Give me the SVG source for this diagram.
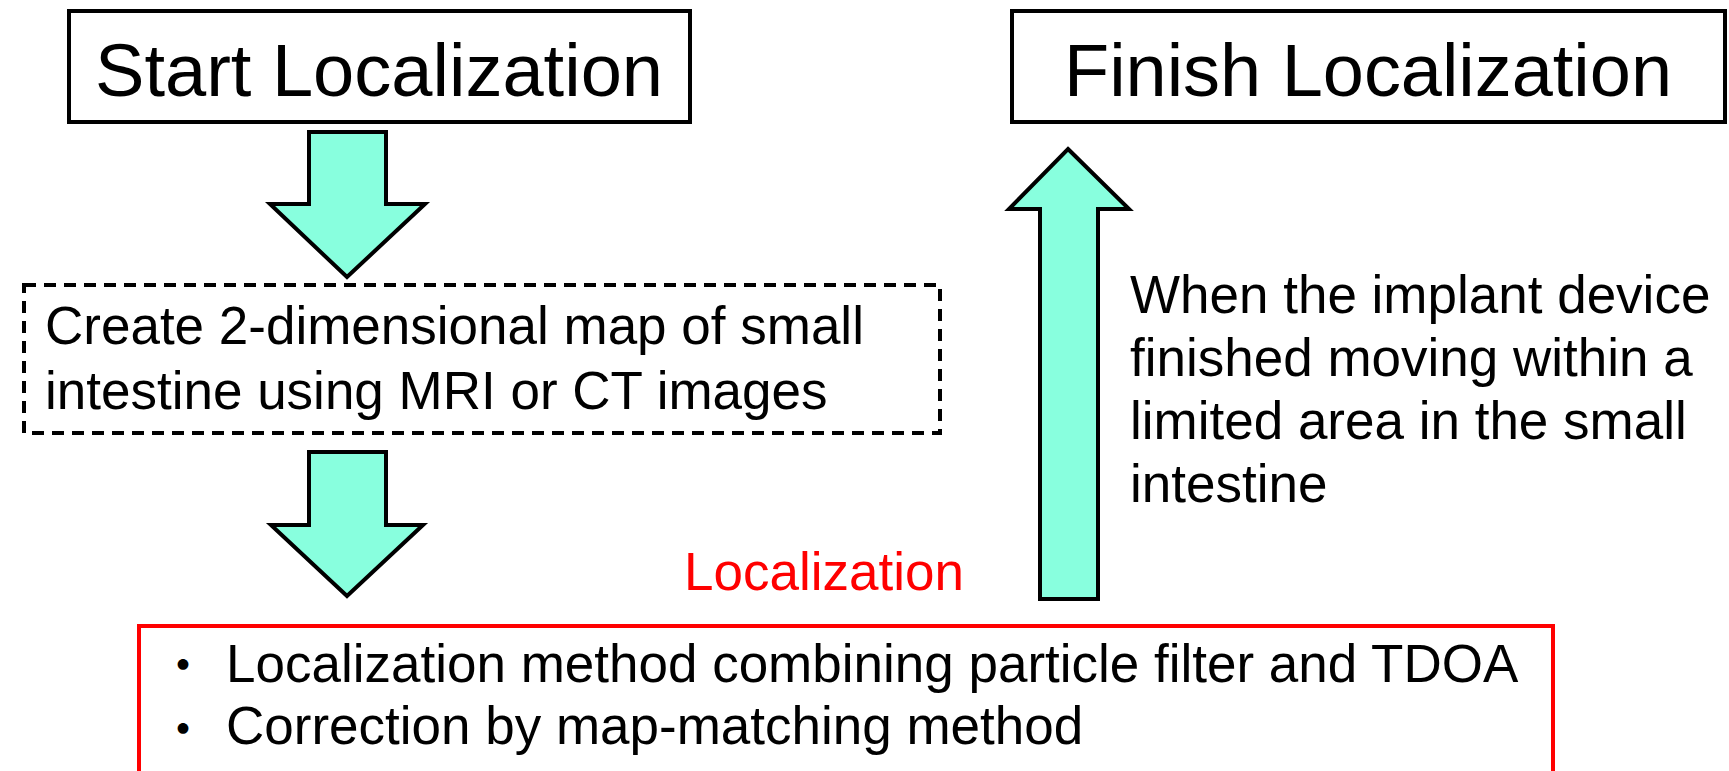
<svg xmlns="http://www.w3.org/2000/svg" width="1729" height="771" viewBox="0 0 1729 771">
<style>
.box{fill:#fff;stroke:#000;stroke-width:4}
.dash{fill:#fff;stroke:#000;stroke-width:4;stroke-dasharray:12 8}
.redbox{fill:#fff;stroke:#f00;stroke-width:4}
.arrow{fill:#88FFDE;stroke:#000;stroke-width:4;stroke-linejoin:miter}
.t{font-family:"Liberation Sans",Arial,sans-serif;fill:#000}
.title{font-size:74px}
.body{font-size:53px}
.red{fill:#f00}
.dot{font-family:"Noto Sans CJK JP",sans-serif;font-size:42px;font-weight:bold;fill:#000}
</style>
<rect width="1729" height="771" fill="#fff"/>
<g id="start">
<rect class="box" x="69" y="11" width="621" height="111"/>
<text class="t title" x="95" y="96" textLength="568" lengthAdjust="spacingAndGlyphs">Start Localization</text>
</g>
<g id="finish">
<rect class="box" x="1012" y="11" width="713" height="111"/>
<text class="t title" x="1064" y="96" textLength="608" lengthAdjust="spacingAndGlyphs">Finish Localization</text>
</g>
<g id="map">
<rect class="dash" x="24" y="285" width="916" height="148"/>
<text class="t body" x="45" y="344">Create 2-dimensional map of small</text>
<text class="t body" x="45" y="409">intestine using MRI or CT images</text>
</g>
<g id="localization">
<text class="t body red" x="684" y="590">Localization</text>
<rect class="redbox" x="139" y="626" width="1414" height="160"/>
<text class="dot" x="162" y="680">・</text>
<text class="t body" x="226" y="682">Localization method combining particle filter and TDOA</text>
<text class="dot" x="162" y="744">・</text>
<text class="t body" x="226" y="744">Correction by map-matching method</text>
</g>
<g id="condition">
<text class="t body" x="1130" y="313">When the implant device</text>
<text class="t body" x="1130" y="376">finished moving within a</text>
<text class="t body" x="1130" y="439">limited area in the small</text>
<text class="t body" x="1130" y="502">intestine</text>
</g>
<g id="connectors">
<path class="arrow" d="M309 132 H386 V204 H425 L347 277 L270 204 H309 Z"/>
<path class="arrow" d="M309 452 H386 V525 H423 L347 596 L271 525 H309 Z"/>
<path class="arrow" d="M1068 149 L1129 209 H1098 V599 H1040 V209 H1009 Z"/>
</g>
</svg>
